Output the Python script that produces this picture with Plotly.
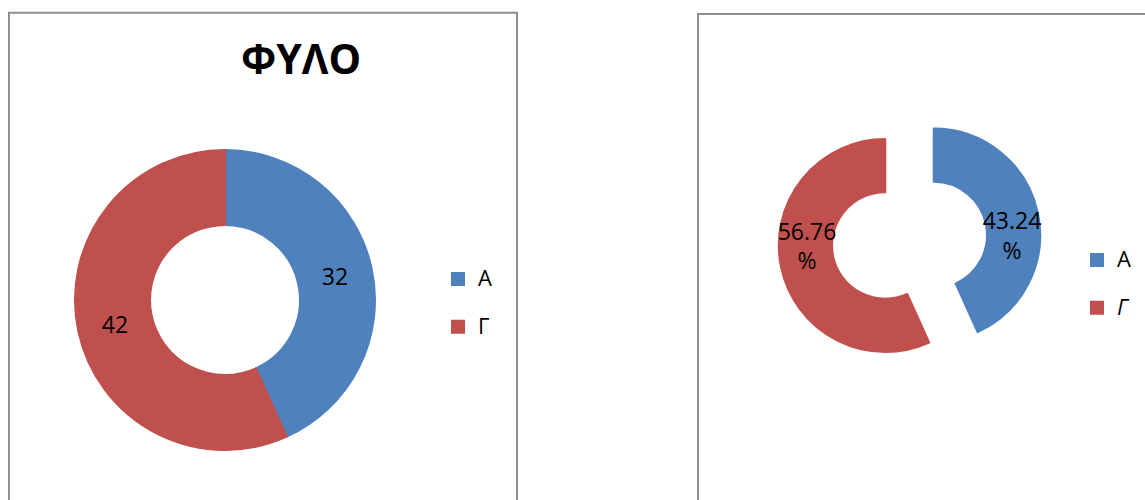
import plotly.graph_objects as go

W, H = 1145, 500

# ---- data ----
categories = ["A", "Γ"]
counts = [32, 42]
colors = ["#4F81BD", "#C0504D"]
title_text = "ΦΥΛΟ"

total = sum(counts)
pct_text = [f"{v / total * 100:.2f}<br>%" for v in counts]

FONT = "Open Sans"
LBL = 23
EDGE = 2  # slice outline in the slice colour (also enlarges legend swatches)

def px_x(x):
    return x / W

def px_y(y):
    return 1 - y / H

def leg_label(c, variant):
    inner = f"<i>{c}</i>" if (variant == 2 and c == "Γ") else c
    style = "font-size:22px;baseline-shift:6px"
    if variant == 2:
        style += ";font-style:normal" if c != "Γ" else ""
        style += ";letter-spacing:0px"
    return f'<span style="{style}">{inner}</span>'

fig = go.Figure()

# left donut: center (225,300), outer radius 151
r1 = 151 - EDGE / 2
fig.add_trace(go.Pie(
    labels=[leg_label(c, 1) for c in categories], values=counts, hole=0.5, sort=False,
    direction="clockwise", rotation=0,
    marker=dict(colors=colors, line=dict(width=EDGE, color=colors)),
    texttemplate="%{value}", textposition="inside",
    insidetextorientation="horizontal",
    textfont=dict(family=FONT, size=LBL, color="black"),
    domain=dict(x=[px_x(225 - r1), px_x(225 + r1)], y=[px_y(300 + r1), px_y(300 - r1)]),
    legend="legend", hoverinfo="value",
))

# right donut (exploded)
r2 = 107.5 - EDGE / 2
pull = 0.2326
half = r2 * (1 + pull)
cx2, cy2 = 909.5, 240.25
fig.add_trace(go.Pie(
    labels=[leg_label(c, 2) for c in categories],
    values=counts, hole=0.5, sort=False,
    direction="clockwise", rotation=0, pull=[pull, pull],
    marker=dict(colors=colors, line=dict(width=EDGE, color=colors)),
    text=pct_text, texttemplate="%{text}", textposition="inside",
    insidetextorientation="horizontal",
    textfont=dict(family=FONT, size=LBL, color="black"),
    domain=dict(x=[px_x(cx2 - half), px_x(cx2 + half)], y=[px_y(cy2 + half), px_y(cy2 - half)]),
    legend="legend2", hoverinfo="percent",
))

leg_font = dict(family=FONT, size=34.5, color="black")

fig.update_layout(
    width=W, height=H,
    margin=dict(l=0, r=0, t=0, b=0),
    paper_bgcolor="white", plot_bgcolor="white",
    uniformtext=dict(minsize=LBL, mode="show"),
    legend=dict(x=px_x(438), y=px_y(250), xanchor="left", yanchor="top",
                font=leg_font, bgcolor="rgba(0,0,0,0)", itemclick=False),
    legend2=dict(x=px_x(1077), y=px_y(231), xanchor="left", yanchor="top",
                 font=leg_font, bgcolor="rgba(0,0,0,0)", itemclick=False),
    shapes=[
        dict(type="rect", xref="paper", yref="paper",
             x0=px_x(9), x1=px_x(517), y0=px_y(520), y1=px_y(12.7),
             line=dict(color="#8E8E8E", width=2), layer="below"),
        dict(type="rect", xref="paper", yref="paper",
             x0=px_x(698), x1=px_x(1160), y0=px_y(520), y1=px_y(14),
             line=dict(color="#8E8E8E", width=2), layer="below"),
    ],
    annotations=[
        dict(text=f"<b>{title_text}</b>", x=px_x(300.5), y=px_y(58), xref="paper", yref="paper",
             xanchor="center", yanchor="middle", showarrow=False,
             font=dict(family=FONT, size=41, color="black")),
    ],
)

fig.write_html("out.html")
